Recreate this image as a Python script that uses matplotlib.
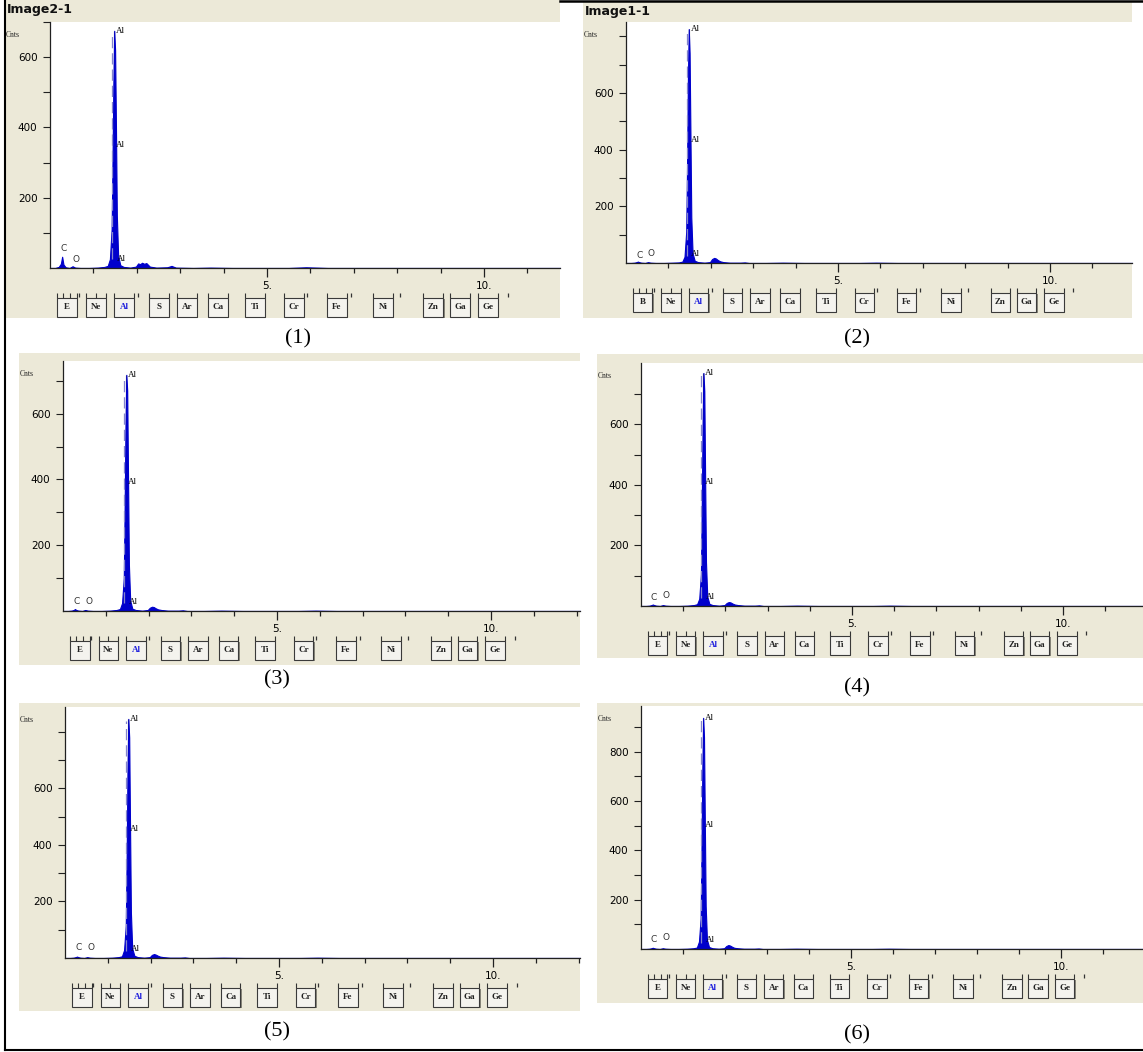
import matplotlib
matplotlib.use("Agg")
import matplotlib.pyplot as plt
from matplotlib.patches import Rectangle
from matplotlib.lines import Line2D

W, H = 1143, 1052
BEIGE = '#ECE9D8'
BLUE = '#0000CC'

# EDS spectra (energy in keV, counts)
energy_kev = [0.00, 0.12, 0.20, 0.25, 0.28, 0.31, 0.36, 0.45, 0.52, 0.58,
              0.70, 0.90, 1.10, 1.25, 1.33, 1.38, 1.42, 1.44, 1.46, 1.48,
              1.50, 1.52, 1.54, 1.57, 1.62, 1.70, 1.85, 1.98, 2.03, 2.08,
              2.12, 2.17, 2.22, 2.30, 2.45, 2.70, 2.80, 2.90, 3.30, 3.70,
              4.20, 4.80, 5.50, 5.90, 6.40, 7.20, 8.00, 8.60, 9.40, 10.20,
              11.00, 12.20]

counts_1 = [0, 0, 3, 12, 32, 10, 2, 0, 5, 1,
            0, 0, 1, 3, 6, 25, 110, 300, 520, 675,
            620, 400, 150, 35, 8, 3, 1, 4, 13, 11,
            15, 12, 14, 4, 1, 2, 6, 1, 0, 1,
            0, 0, 0, 2, 0, 0, 0, 0, 0, 0,
            0, 0]
counts_2 = [0, 0, 1, 3, 5, 3, 1, 0, 3, 1,
            0, 0, 1, 2, 5, 22, 110, 340, 650, 825,
            740, 450, 160, 35, 8, 3, 1, 3, 14, 18,
            16, 10, 6, 3, 1, 1, 2, 0, 0, 1,
            0, 0, 0, 1, 0, 0, 0, 0, 0, 0,
            0, 0]
counts_3 = [0, 0, 1, 3, 6, 3, 1, 0, 3, 1,
            0, 0, 1, 3, 6, 24, 100, 310, 560, 718,
            670, 400, 140, 32, 7, 3, 1, 3, 10, 13,
            12, 8, 5, 3, 1, 1, 2, 0, 0, 1,
            0, 0, 0, 1, 0, 0, 0, 0, 0, 0,
            0, 0]
counts_4 = [0, 0, 1, 3, 5, 3, 1, 0, 3, 1,
            0, 0, 1, 3, 6, 24, 105, 330, 600, 770,
            710, 420, 145, 32, 7, 3, 1, 3, 10, 13,
            12, 8, 5, 3, 1, 1, 2, 0, 0, 1,
            0, 0, 0, 1, 0, 0, 0, 0, 0, 0,
            0, 0]
counts_5 = [0, 0, 1, 3, 5, 3, 1, 0, 3, 1,
            0, 0, 1, 3, 6, 28, 115, 350, 660, 846,
            780, 460, 160, 35, 8, 3, 1, 3, 11, 14,
            12, 8, 5, 3, 1, 1, 2, 0, 0, 1,
            0, 0, 0, 1, 0, 0, 0, 0, 0, 0,
            0, 0]
counts_6 = [0, 0, 1, 3, 5, 3, 1, 0, 3, 1,
            0, 0, 1, 3, 6, 30, 125, 400, 720, 937,
            860, 510, 175, 38, 8, 3, 1, 3, 12, 16,
            14, 9, 5, 3, 1, 1, 2, 0, 0, 1,
            0, 0, 0, 1, 0, 0, 0, 0, 0, 0,
            0, 0]
spectra = [counts_1, counts_2, counts_3, counts_4, counts_5, counts_6]

titles = ['Image2-1', 'Image1-1', '', '', '', '']
captions = ['(1)', '(2)', '(3)', '(4)', '(5)', '(6)']
y_max = [700, 850, 760, 803, 888, 985]
y_labeled = [[200, 400, 600], [200, 400, 600], [200, 400, 600],
             [200, 400, 600], [200, 400, 600], [200, 400, 600, 800]]
y_minor = [[100, 300, 500, 700], [100, 300, 500, 700, 800],
           [100, 300, 500, 700], [100, 300, 500, 700],
           [100, 300, 500, 700, 800], [100, 300, 500, 700, 900]]

al_kev = 1.48
al_mid_label = [351, 435, 391, 410, 457, 503]
c_kev = 0.31
o_kev = 0.60

first_button = ['E', 'B', 'E', 'E', 'E', 'E']
other_buttons = ['Ne', 'Al', 'S', 'Ar', 'Ca', 'Ti', 'Cr', 'Fe', 'Ni', 'Zn', 'Ga', 'Ge']
button_kev = [0.39, 1.06, 1.71, 2.51, 3.16, 3.87, 4.72, 5.62, 6.61, 7.67, 8.83, 9.45, 10.09]
mark_kev = [0.66, 2.02, 5.92, 6.93, 8.06, 10.55]

# pixel layout of every screenshot: beige box, axes origin/top/right, px per keV, caption
layout = [
    dict(box=(5, 0, 560, 318), left=50, top=22, bottom=268, right=560, kev=43.4,
         cap=(298, 339), c_px=20, o_px=9),
    dict(box=(583, 2, 1132, 318), left=626, top=22, bottom=263, right=1132, kev=42.4,
         cap=(857, 339), c_px=7, o_px=10),
    dict(box=(19, 353, 580, 665), left=63, top=361, bottom=611, right=580, kev=42.8,
         cap=(277, 680), c_px=9, o_px=9),
    dict(box=(597, 354, 1143, 658), left=641, top=363, bottom=606, right=1143, kev=42.2,
         cap=(857, 688), c_px=8, o_px=10),
    dict(box=(19, 703, 580, 1011), left=65, top=707, bottom=958, right=580, kev=42.8,
         cap=(277, 1032), c_px=10, o_px=10),
    dict(box=(597, 703, 1143, 1003), left=641, top=706, bottom=949, right=1143, kev=42.0,
         cap=(857, 1035), c_px=9, o_px=11),
]


def fx(px):
    return px / W


def fy(py):
    return 1 - py / H


fig = plt.figure(figsize=(W / 100, H / 100), dpi=100)
fig.patch.set_facecolor('white')

for i, lay in enumerate(layout):
    x0, y0, x1, y1 = lay['box']
    fig.add_artist(Rectangle((fx(x0), fy(y1)), (x1 - x0) / W, (y1 - y0) / H,
                             transform=fig.transFigure, fc=BEIGE, ec='none', zorder=-2))
    if titles[i]:
        fig.text(fx(x0 + 2), fy(y0 + 9), titles[i], fontsize=9, fontweight='bold',
                 va='center', ha='left', color='#111111')
    fig.text(fx(x0 + 1), fy(lay['top'] + 13), 'Cnts', fontsize=5.5,
             family='Liberation Serif', va='center', ha='left', color='#222222')
    fig.text(fx(lay['cap'][0]), fy(lay['cap'][1]), captions[i], fontsize=16,
             family='Liberation Serif', ha='center', va='center')

    left, right, top, bottom = lay['left'], lay['right'], lay['top'], lay['bottom']
    x_hi = (right - left) / lay['kev']
    ax = fig.add_axes([fx(left), fy(bottom), (right - left) / W, (bottom - top) / H])
    ax.set_facecolor('white')
    ax.set_xlim(0, x_hi)
    ax.set_ylim(0, y_max[i])
    for side in ('top', 'right'):
        ax.spines[side].set_visible(False)
    for side in ('left', 'bottom'):
        ax.spines[side].set_color('#202020')
        ax.spines[side].set_linewidth(0.9)

    counts = spectra[i]
    peak = max(counts)
    ax.vlines(al_kev, 0, peak, color='#505050', lw=0.8, zorder=0.5)
    ax.fill_between(energy_kev, counts, color=BLUE, lw=0.8, edgecolor=BLUE, zorder=1)
    ax.vlines(al_kev - 0.05, 25, peak * 0.99, color='#8585cc', lw=0.9,
              linestyles=(0, (9, 4)), zorder=2)

    px_per_count = (bottom - top) / y_max[i]
    ax.text(al_kev + 0.04, peak, 'Al', fontsize=6.5, family='Liberation Serif',
            va='center', ha='left')
    ax.text(al_kev + 0.04, al_mid_label[i], 'Al', fontsize=6.5, family='Liberation Serif',
            va='center', ha='left')
    ax.text(al_kev + 0.06, 9 / px_per_count, 'Al', fontsize=6.5, family='Liberation Serif',
            va='center', ha='left')
    ax.text(c_kev, lay['c_px'] / px_per_count, 'C', fontsize=6.5, va='center', ha='center',
            color='#333333')
    ax.text(o_kev, lay['o_px'] / px_per_count, 'O', fontsize=6.5, va='center', ha='center',
            color='#333333')

    ax.set_xticks([5, 10])
    ax.set_xticklabels(['5.', '10.'])
    ax.set_xticks([k for k in range(1, int(x_hi) + 1) if k not in (5, 10)], minor=True)
    ax.set_yticks(y_labeled[i])
    ax.set_yticklabels([str(v) for v in y_labeled[i]])
    ax.set_yticks(y_minor[i], minor=True)
    ax.tick_params(axis='x', which='major', direction='out', length=6.5, width=0.9,
                   pad=3, labelsize=7.5, color='#202020')
    ax.tick_params(axis='x', which='minor', direction='out', length=3.6, width=0.9,
                   color='#202020')
    ax.tick_params(axis='y', which='both', direction='out', length=5, width=0.8,
                   pad=4, labelsize=7.5, color='#202020')

    # element button strip under the spectrum
    sax = fig.add_axes([fx(left), fy(bottom + 52), (right - left) / W, 28 / H])
    sax.set_xlim(0, x_hi)
    sax.set_ylim(0, 1)
    sax.axis('off')
    names = [first_button[i]] + other_buttons
    half = 0.23
    for j, (name, xc) in enumerate(zip(names, button_kev)):
        sax.add_patch(Rectangle((xc - half + 0.03, 0.07), 2 * half, 0.69,
                                fc='#8a887c', ec='none'))
        sax.add_patch(Rectangle((xc - half, 0.11), 2 * half, 0.68,
                                fc='#F4F3EE', ec='#3a3a3a', lw=0.8))
        if j == 0:
            ticks = [xc - half, xc - 0.08, xc + 0.08, xc + half]
        elif j == 1:
            ticks = [xc - half, xc, xc + half]
        else:
            ticks = [xc - half, xc + half]
        sax.vlines(ticks, 0.79, 0.95, color='#333333', lw=0.8)
        sax.text(xc, 0.45, name, ha='center', va='center', fontsize=6.5,
                 family='Liberation Serif', fontweight='bold',
                 color='#2020dd' if name == 'Al' else '#222222')
    sax.vlines(mark_kev, 0.82, 0.95, color='#333333', lw=0.9)

# outer frame lines of the composite
fig.add_artist(Line2D([fx(5), fx(5)], [fy(0), fy(1050)], transform=fig.transFigure,
                      color='black', lw=1.5))
fig.add_artist(Line2D([fx(5), fx(1143)], [fy(1050), fy(1050)], transform=fig.transFigure,
                      color='black', lw=1.5))
fig.add_artist(Line2D([fx(560), fx(1143)], [fy(1), fy(1)], transform=fig.transFigure,
                      color='black', lw=1.8))

fig.savefig('out.png', dpi=100, facecolor='white')
